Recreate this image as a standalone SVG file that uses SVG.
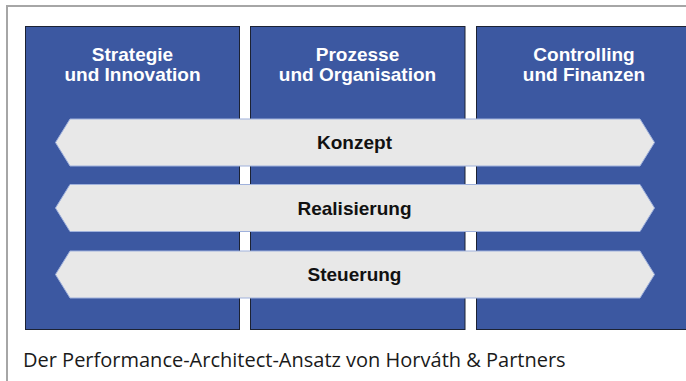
<svg xmlns="http://www.w3.org/2000/svg" width="686" height="381" viewBox="0 0 686 381">
  <style>
    .col { fill: #3c58a1; stroke: #1c2233; stroke-width: 1; }
    .band { fill: #e8e8e8; stroke: #9fb1dc; stroke-width: 1; }
    .head { font-family: "Liberation Sans", Arial, sans-serif; font-weight: bold; font-size: 19px; fill: #ffffff; text-anchor: middle; }
    .lbl { font-family: "Liberation Sans", Arial, sans-serif; font-weight: bold; font-size: 19px; fill: #111111; text-anchor: middle; }
    .cap { font-family: "Open Sans", "Noto Sans", sans-serif; font-size: 20px; fill: #1a1a1a; }
  </style>
  <rect width="686" height="381" fill="#ffffff"/>
  <!-- outer frame, open to the right and bottom -->
  <rect x="7" y="6" width="700" height="400" fill="#ffffff" stroke="#a6a6a6" stroke-width="2"/>

  <g id="col-strategie">
    <rect class="col" x="25.5" y="26.5" width="214" height="303"/>
    <text class="head" x="132.5" y="61">Strategie</text>
    <text class="head" x="132.5" y="81">und Innovation</text>
  </g>
  <g id="col-prozesse">
    <rect class="col" x="250.5" y="26.5" width="214.5" height="303"/>
    <text class="head" x="357.5" y="61">Prozesse</text>
    <text class="head" x="357.5" y="81">und Organisation</text>
  </g>
  <g id="col-controlling">
    <rect class="col" x="476.5" y="26.5" width="215" height="303"/>
    <text class="head" x="584" y="61">Controlling</text>
    <text class="head" x="584" y="81">und Finanzen</text>
  </g>

  <g id="band-konzept">
    <polygon class="band" points="70,119 640,119 654.5,142.5 640,166 70,166 55.5,142.5"/>
    <text class="lbl" x="354.5" y="149.3">Konzept</text>
  </g>
  <g id="band-realisierung">
    <polygon class="band" points="70,184.5 640,184.5 654.5,208 640,231.5 70,231.5 55.5,208"/>
    <text class="lbl" x="354.5" y="214.8">Realisierung</text>
  </g>
  <g id="band-steuerung">
    <polygon class="band" points="70,251 640,251 654.5,274.5 640,298 70,298 55.5,274.5"/>
    <text class="lbl" x="354.5" y="281.3">Steuerung</text>
  </g>

  <text class="cap" x="23" y="367">Der Performance-Architect-Ansatz von Horváth &amp; Partners</text>
</svg>
